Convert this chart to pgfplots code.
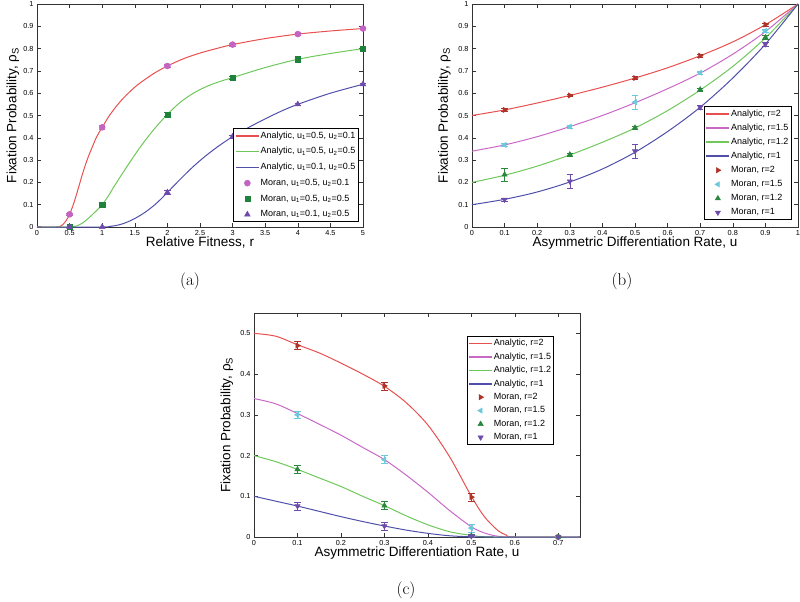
\documentclass[border=0pt]{standalone}
\usepackage{fontspec}
\usepackage{pgfplots}
\usepackage{pgfplotstable}
\pgfplotsset{compat=1.18}
\newfontfamily\arial{Liberation Sans}

\definecolor{lRed}{RGB}{232,80,80}
\definecolor{lMag}{RGB}{200,105,200}
\definecolor{lGreen}{RGB}{110,200,90}
\definecolor{lBlue}{RGB}{80,80,170}
\definecolor{mMag}{RGB}{195,100,195}
\definecolor{mDkGreen}{RGB}{30,130,60}
\definecolor{mPurple}{RGB}{110,75,170}
\definecolor{mRed}{RGB}{175,50,40}
\definecolor{mCyan}{RGB}{110,200,220}
\definecolor{mGreen}{RGB}{40,135,60}

% ---------- panel (a) ----------
\pgfplotstableread{
x y
0 0
0.3 0
0.35 0.002
0.4 0.012
0.45 0.03
0.5 0.057
0.55 0.095
0.6 0.14
0.65 0.19
0.7 0.24
0.75 0.285
0.8 0.325
0.85 0.36
0.9 0.395
0.95 0.423
1.0 0.447
1.1 0.495
1.2 0.535
1.3 0.57
1.4 0.60
1.5 0.627
1.6 0.65
1.8 0.69
2.0 0.722
2.25 0.755
2.5 0.78
2.75 0.80
3.0 0.818
3.5 0.845
4.0 0.865
4.5 0.879
5.0 0.89
}\aRed
\pgfplotstableread{
x y
0 0
0.5 0
0.55 0.001
0.6 0.004
0.7 0.018
0.8 0.042
0.9 0.07
1.0 0.10
1.1 0.142
1.2 0.19
1.4 0.28
1.6 0.365
1.8 0.44
2.0 0.505
2.2 0.56
2.4 0.60
2.6 0.63
2.8 0.652
3.0 0.67
3.5 0.715
4.0 0.752
4.5 0.778
5.0 0.80
}\aGreen
\pgfplotstableread{
x y
0 0
1.0 0
1.1 0.002
1.2 0.006
1.3 0.013
1.4 0.024
1.5 0.038
1.6 0.055
1.7 0.075
1.8 0.098
1.9 0.125
2.0 0.155
2.2 0.215
2.4 0.272
2.6 0.322
2.8 0.366
3.0 0.405
3.25 0.447
3.5 0.485
3.75 0.52
4.0 0.55
4.5 0.60
5.0 0.64
}\aBlue
\pgfplotstableread{
x y e
0.5 0.057 0.006
1 0.447 0.01
2 0.722 0.008
3 0.818 0.006
4 0.865 0.007
5 0.89 0.005
}\aMmag
\pgfplotstableread{
x y e
0.5 0 0
1 0.10 0.006
2 0.505 0.01
3 0.67 0.007
4 0.752 0.007
5 0.80 0.006
}\aMgreen
\pgfplotstableread{
x y e
0.5 0 0
1 0 0
2 0.155 0.008
3 0.405 0.006
4 0.55 0.006
5 0.64 0.006
}\aMpurple

% ---------- panel (b) ----------
\pgfplotstableread{
x y
0 0.5
0.1 0.525
0.2 0.556
0.3 0.59
0.4 0.627
0.5 0.668
0.6 0.714
0.7 0.768
0.8 0.83
0.9 0.907
1 1
}\bRed
\pgfplotstableread{
x y
0 0.34
0.1 0.368
0.2 0.405
0.3 0.45
0.4 0.50
0.5 0.557
0.6 0.62
0.7 0.69
0.8 0.775
0.9 0.876
1 1
}\bMag
\pgfplotstableread{
x y
0 0.2
0.1 0.232
0.2 0.273
0.3 0.323
0.4 0.38
0.5 0.444
0.6 0.522
0.7 0.614
0.8 0.72
0.9 0.848
1 1
}\bGreen
\pgfplotstableread{
x y
0 0.1
0.1 0.124
0.2 0.157
0.3 0.202
0.4 0.26
0.5 0.335
0.6 0.428
0.7 0.537
0.8 0.668
0.9 0.82
1 1
}\bBlue
\pgfplotstableread{
x y e
0.1 0.525 0.006
0.3 0.59 0.006
0.5 0.668 0.007
0.7 0.768 0.007
0.9 0.908 0.007
}\bMred
\pgfplotstableread{
x y e
0.1 0.368 0.007
0.3 0.45 0.006
0.5 0.56 0.03
0.7 0.692 0.006
0.9 0.88 0.008
}\bMcyan
\pgfplotstableread{
x y e
0.1 0.235 0.03
0.3 0.325 0.007
0.5 0.445 0.007
0.7 0.616 0.008
0.9 0.85 0.008
}\bMgreen
\pgfplotstableread{
x y e
0.1 0.123 0.006
0.3 0.205 0.03
0.5 0.34 0.03
0.7 0.537 0.007
0.9 0.82 0.008
}\bMpurple

% ---------- panel (c) ----------
\pgfplotstableread{
x y
0 0.5
0.05 0.493
0.1 0.472
0.15 0.452
0.2 0.427
0.25 0.4
0.3 0.37
0.35 0.33
0.4 0.275
0.45 0.197
0.5 0.10
0.53 0.05
0.56 0.017
0.58 0.005
0.6 0
0.75 0
}\cRed
\pgfplotstableread{
x y
0 0.34
0.05 0.327
0.1 0.303
0.15 0.277
0.2 0.25
0.25 0.22
0.3 0.19
0.35 0.152
0.4 0.11
0.45 0.065
0.5 0.025
0.53 0.01
0.56 0.002
0.6 0
0.75 0
}\cMag
\pgfplotstableread{
x y
0 0.2
0.05 0.185
0.1 0.166
0.15 0.145
0.2 0.124
0.25 0.1
0.3 0.077
0.35 0.052
0.4 0.03
0.45 0.013
0.5 0.004
0.55 0
0.75 0
}\cGreen
\pgfplotstableread{
x y
0 0.1
0.05 0.088
0.1 0.076
0.15 0.063
0.2 0.05
0.25 0.038
0.3 0.027
0.35 0.017
0.4 0.009
0.45 0.003
0.5 0.0005
0.55 0
0.75 0
}\cBlue
\pgfplotstableread{
x y e
0.1 0.47 0.01
0.3 0.371 0.01
0.5 0.098 0.01
0.7 0 0
}\cMred
\pgfplotstableread{
x y e
0.1 0.30 0.009
0.3 0.19 0.01
0.5 0.022 0.01
0.7 0 0
}\cMcyan
\pgfplotstableread{
x y e
0.1 0.166 0.009
0.3 0.077 0.01
0.5 0.003 0.003
0.7 0 0
}\cMgreen
\pgfplotstableread{
x y e
0.1 0.076 0.01
0.3 0.027 0.01
0.5 0.002 0.003
0.7 0 0
}\cMpurple

\pgfplotsset{
  base/.style={
    scale only axis, width=326pt, height=223pt, anchor=south west,
    clip=false,
    tick align=inside, major tick length=4pt,
    axis line style={black!80, line width=0.6pt},
    every tick/.style={black!80, line width=0.5pt},
    tick label style={font=\arial\fontsize{7.3}{8}\selectfont},
    /pgf/number format/assume math mode=true,
    /pgf/number format/fixed,
    /pgf/number format/precision=2,
    scaled ticks=false,
    label style={font=\arial\fontsize{13.5}{15}\selectfont},
    xlabel style={at={(axis description cs:0.5,0)}, anchor=base, yshift=-20pt},
    ylabel={Fixation Probability, ρ\textsubscript{S}},
    legend cell align=left,
    legend style={font=\arial\fontsize{9}{10}\selectfont, line width=0.6pt,
      inner sep=1.5pt, nodes={inner sep=1pt, text height=7pt, text depth=2.5pt}},
  },
  ana/.style={line width=1pt, smooth, tension=0.5, no marks, color=#1, draw=#1,
    legend image code/.code={\draw[draw=#1, line width=1.4pt] (0pt,0pt) -- (23pt,0pt);}},
  mor/.style={only marks, mark size=3pt, color=#1,
    mark options={fill=#1, draw=#1, line width=0.5pt},
    legend image code/.code={\draw[##1] plot coordinates {(11.5pt,0pt)};},
    error bars/y dir=both, error bars/y explicit,
    error bars/error bar style={draw=#1, line width=0.6pt},
    error bars/error mark options={rotate=90, draw=#1, mark size=3.2pt, line width=0.6pt}},
}

\begin{document}
\begin{tikzpicture}
\useasboundingbox (0pt,0pt) rectangle (800pt,602pt);

% ================= (a) =================
\begin{axis}[base, at={(37pt,375pt)},
  xmin=0, xmax=5, ymin=0, ymax=1,
  xtick={0,0.5,1,1.5,2,2.5,3,3.5,4,4.5,5},
  ytick={0,0.1,0.2,0.3,0.4,0.5,0.6,0.7,0.8,0.9,1},
  xlabel={Relative Fitness, r},
  ylabel style={at={(axis description cs:-0.074,0.5)}, anchor=center},
  legend style={at={(0.985,0.022)}, anchor=south east, row sep=4.2pt},
]
\addplot[ana=lRed] table[x=x,y=y] {\aRed};
\addlegendentry{Analytic, u\textsubscript{1}=0.5, u\textsubscript{2}=0.1}
\addplot[ana=lGreen] table[x=x,y=y] {\aGreen};
\addlegendentry{Analytic, u\textsubscript{1}=0.5, u\textsubscript{2}=0.5}
\addplot[ana=lBlue] table[x=x,y=y] {\aBlue};
\addlegendentry{Analytic, u\textsubscript{1}=0.1, u\textsubscript{2}=0.5}
\addplot[mor=mMag, mark=*] table[x=x,y=y,y error=e] {\aMmag};
\addlegendentry{Moran, u\textsubscript{1}=0.5, u\textsubscript{2}=0.1}
\addplot[mor=mDkGreen, mark=square*, mark size=2.6pt] table[x=x,y=y,y error=e] {\aMgreen};
\addlegendentry{Moran, u\textsubscript{1}=0.5, u\textsubscript{2}=0.5}
\addplot[mor=mPurple, mark=triangle*, mark size=3.3pt] table[x=x,y=y,y error=e] {\aMpurple};
\addlegendentry{Moran, u\textsubscript{1}=0.1, u\textsubscript{2}=0.5}
\end{axis}

% ================= (b) =================
\begin{axis}[base, at={(472pt,375pt)},
  xmin=0, xmax=1, ymin=0, ymax=1,
  xtick={0,0.1,0.2,0.3,0.4,0.5,0.6,0.7,0.8,0.9,1},
  ytick={0,0.1,0.2,0.3,0.4,0.5,0.6,0.7,0.8,0.9,1},
  xlabel={Asymmetric Differentiation Rate, u},
  ylabel style={at={(axis description cs:-0.085,0.5)}, anchor=center},
  legend style={at={(0.979,0.031)}, anchor=south east, row sep=2.6pt},
]
\addplot[ana=lRed] table[x=x,y=y] {\bRed};
\addlegendentry{Analytic, r=2}
\addplot[ana=lMag] table[x=x,y=y] {\bMag};
\addlegendentry{Analytic, r=1.5}
\addplot[ana=lGreen] table[x=x,y=y] {\bGreen};
\addlegendentry{Analytic, r=1.2}
\addplot[ana=lBlue] table[x=x,y=y] {\bBlue};
\addlegendentry{Analytic, r=1}
\addplot[mor=mRed, mark=triangle*, every mark/.append style={rotate=-90}] table[x=x,y=y,y error=e] {\bMred};
\addlegendentry{Moran, r=2}
\addplot[mor=mCyan, mark=triangle*, every mark/.append style={rotate=90}] table[x=x,y=y,y error=e] {\bMcyan};
\addlegendentry{Moran, r=1.5}
\addplot[mor=mGreen, mark=triangle*] table[x=x,y=y,y error=e] {\bMgreen};
\addlegendentry{Moran, r=1.2}
\addplot[mor=mPurple, mark=triangle*, every mark/.append style={rotate=180}] table[x=x,y=y,y error=e] {\bMpurple};
\addlegendentry{Moran, r=1}
\end{axis}

% ================= (c) =================
\begin{axis}[base, at={(254pt,65pt)}, height=224pt,
  xmin=0, xmax=0.75, ymin=0, ymax=0.55,
  xtick={0,0.1,0.2,0.3,0.4,0.5,0.6,0.7},
  ytick={0,0.1,0.2,0.3,0.4,0.5},
  xlabel={Asymmetric Differentiation Rate, u},
  ylabel style={at={(axis description cs:-0.083,0.5)}, anchor=center},
  legend style={at={(0.92,0.897)}, anchor=north east, row sep=1.9pt},
]
\addplot[ana=lRed] table[x=x,y=y] {\cRed};
\addlegendentry{Analytic, r=2}
\addplot[ana=lMag] table[x=x,y=y] {\cMag};
\addlegendentry{Analytic, r=1.5}
\addplot[ana=lGreen] table[x=x,y=y] {\cGreen};
\addlegendentry{Analytic, r=1.2}
\addplot[ana=lBlue] table[x=x,y=y] {\cBlue};
\addlegendentry{Analytic, r=1}
\addplot[mor=mRed, mark=triangle*, every mark/.append style={rotate=-90}] table[x=x,y=y,y error=e] {\cMred};
\addlegendentry{Moran, r=2}
\addplot[mor=mCyan, mark=triangle*, every mark/.append style={rotate=90}] table[x=x,y=y,y error=e] {\cMcyan};
\addlegendentry{Moran, r=1.5}
\addplot[mor=mGreen, mark=triangle*] table[x=x,y=y,y error=e] {\cMgreen};
\addlegendentry{Moran, r=1.2}
\addplot[mor=mPurple, mark=triangle*, every mark/.append style={rotate=180}] table[x=x,y=y,y error=e] {\cMpurple};
\addlegendentry{Moran, r=1}
\end{axis}

\node[font=\fontsize{17}{20}\selectfont] at (190pt,321pt) {(a)};
\node[font=\fontsize{17}{20}\selectfont] at (622pt,321pt) {(b)};
\node[font=\fontsize{17}{20}\selectfont] at (406pt,12pt) {(c)};
\end{tikzpicture}
\end{document}
